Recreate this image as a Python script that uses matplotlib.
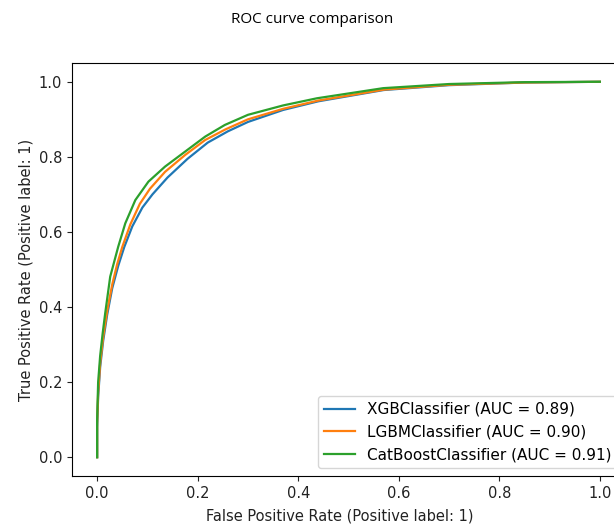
import numpy as np
import matplotlib
matplotlib.use('Agg')
import matplotlib.pyplot as plt

# ROC points (FPR, TPR)
xgb_fpr = [0.0, 0.0, 0.002, 0.006, 0.012, 0.02, 0.03, 0.042, 0.054, 0.07, 0.09, 0.11,
           0.14, 0.18, 0.22, 0.26, 0.30, 0.37, 0.44, 0.57, 0.70, 0.85, 1.0]
xgb_tpr = [0.0, 0.08, 0.16, 0.24, 0.31, 0.38, 0.45, 0.51, 0.56, 0.615, 0.665, 0.70,
           0.745, 0.795, 0.838, 0.868, 0.893, 0.925, 0.948, 0.978, 0.991, 0.998, 1.0]

lgbm_fpr = [0.0, 0.0, 0.002, 0.006, 0.012, 0.02, 0.03, 0.04, 0.05, 0.066, 0.085, 0.105,
            0.135, 0.175, 0.215, 0.255, 0.30, 0.37, 0.44, 0.57, 0.70, 0.85, 1.0]
lgbm_tpr = [0.0, 0.09, 0.17, 0.25, 0.32, 0.39, 0.46, 0.515, 0.56, 0.62, 0.675, 0.715,
            0.76, 0.805, 0.845, 0.873, 0.90, 0.928, 0.95, 0.979, 0.992, 0.998, 1.0]

cat_fpr = [0.0, 0.0, 0.002, 0.006, 0.011, 0.016, 0.026, 0.042, 0.056, 0.076, 0.102, 0.135,
           0.175, 0.215, 0.254, 0.30, 0.37, 0.437, 0.569, 0.70, 0.85, 1.0]
cat_tpr = [0.0, 0.1, 0.2, 0.27, 0.33, 0.383, 0.481, 0.561, 0.623, 0.685, 0.734, 0.774,
           0.814, 0.854, 0.885, 0.912, 0.937, 0.956, 0.983, 0.994, 0.999, 1.0]

labels = ["XGBClassifier (AUC = 0.89)",
          "LGBMClassifier (AUC = 0.90)",
          "CatBoostClassifier (AUC = 0.91)"]

fig = plt.figure(figsize=(6.14, 5.25), dpi=100)
# axes run past the right edge, like the cropped original
ax = fig.add_axes([72 / 614, 49 / 525, 553 / 614, 413 / 525])

ax.plot(xgb_fpr, xgb_tpr, color='#1f77b4', lw=1.6, label=labels[0])
ax.plot(lgbm_fpr, lgbm_tpr, color='#ff7f0e', lw=1.6, label=labels[1])
ax.plot(cat_fpr, cat_tpr, color='#2ca02c', lw=1.6, label=labels[2])

ax.set_xlim(-0.05, 1.05)
ax.set_ylim(-0.05, 1.05)
ax.set_xticks(np.arange(0, 1.01, 0.2))
ax.set_yticks(np.arange(0, 1.01, 0.2))
ax.tick_params(labelsize=10.5, colors='#222222')
ax.set_xlabel("False Positive Rate (Positive label: 1)", fontsize=10.5, color='#222222')
ax.set_ylabel("True Positive Rate (Positive label: 1)", fontsize=10.5, color='#222222')
ax.xaxis.set_label_coords(0.485, -0.078)
ax.legend(loc='lower right', fontsize=11)

fig.suptitle("ROC curve comparison", x=0.508, y=0.978, fontsize=11, family='Open Sans')

fig.savefig("out.png", dpi=100)
